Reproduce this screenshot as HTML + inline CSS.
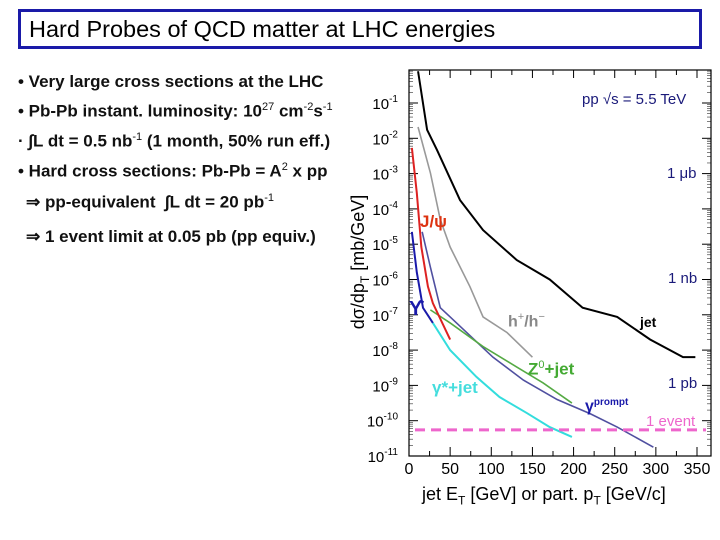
<!DOCTYPE html>
<html><head><meta charset="utf-8"><style>
body{margin:0;width:720px;height:540px;background:#fff;font-family:"Liberation Sans",sans-serif;position:relative;overflow:hidden}
.t{position:absolute;white-space:nowrap}
#title{position:absolute;left:18px;top:9px;width:670px;height:34px;border:3px solid #1a1aa8;font-size:23.5px;line-height:34px;padding-left:8px;box-sizing:content-box}
.b{font-size:17px;font-weight:bold;color:#111}
sup{font-size:11px;font-weight:normal}
</style></head><body>
<div id="title">Hard Probes of QCD matter at LHC energies</div>
<div class="t b" style="left:18px;top:72px">• Very large cross sections at the LHC</div>
<div class="t b" style="left:18px;top:101px">• Pb-Pb instant. luminosity: 10<sup>27</sup> cm<sup>-2</sup>s<sup>-1</sup></div>
<div class="t b" style="left:18px;top:131px">· ∫L dt = 0.5 nb<sup>-1</sup> (1 month, 50% run eff.)</div>
<div class="t b" style="left:18px;top:161px">• Hard cross sections: Pb-Pb = A<sup>2</sup> x pp</div>
<div class="t b" style="left:26px;top:192px">⇒ pp-equivalent &nbsp;∫L dt = 20 pb<sup>-1</sup></div>
<div class="t b" style="left:26px;top:227px">⇒ 1 event limit at 0.05 pb (pp equiv.)</div>
<svg id="chart" width="720" height="540" style="position:absolute;left:0;top:0"></svg>
<script>
const jetPt=[11,22,34,62,90,131,171,211,253,293,333,348];
const jetL=[-0.1,-1.76,-2.33,-3.75,-4.6,-5.45,-6.0,-6.8,-7.06,-7.7,-8.2,-8.2];
const hadPt=[11,26,38,50,74,90,119,150];
const hadL=[-1.68,-2.98,-4.3,-5.08,-6.2,-7.06,-7.5,-8.2];
const jpsiPt=[3.5,9.5,15,23,29,50];
const jpsiL=[-2.27,-3.55,-5.08,-6.2,-6.67,-7.7];
const upsPt=[3.5,9.5,17,29];
const upsL=[-4.65,-5.8,-6.8,-7.23];
const gamPt=[16,26,38,50,70,102,139,180,220,253,297];
const gamL=[-4.65,-5.65,-6.8,-7.06,-7.5,-8.2,-8.85,-9.4,-9.8,-10.18,-10.75];
const zPt=[26,50,90,131,163,198];
const zL=[-6.86,-7.23,-7.9,-8.48,-8.93,-9.5];
const gsPt=[29,50,82,110,143,171,198];
const gsL=[-7.23,-8.0,-8.76,-9.33,-9.78,-10.18,-10.46];
const xTicks=[0,50,100,150,200,250,300,350];
const yTicks=[-1,-2,-3,-4,-5,-6,-7,-8,-9,-10,-11];
const eventL=-10.26;
const X=v=>409+v*288/350, Y=l=>103+(-1-l)*35.3;
const NS='http://www.w3.org/2000/svg', svg=document.getElementById('chart');
function mk(tag,attrs,txt){const e=document.createElementNS(NS,tag);for(const k in attrs)e.setAttribute(k,attrs[k]);if(txt!==undefined)e.textContent=txt;svg.appendChild(e);return e;}
let f=mk('rect',{x:409,y:70,width:302,height:386,fill:'none',stroke:'#000','stroke-width':1.2});


xTicks.forEach(v=>{
 let t=mk('line',{x1:X(v),x2:X(v),y1:456,y2:447,stroke:'#000'});
 
 
 mk('line',{x1:X(v),x2:X(v),y1:70,y2:78,stroke:'#000'});
 if(v<350){mk('line',{x1:X(v+25),x2:X(v+25),y1:456,y2:451,stroke:'#000'});mk('line',{x1:X(v+25),x2:X(v+25),y1:70,y2:75,stroke:'#000'});}
 let l=mk('text',{x:X(v),y:474,'font-size':16,'text-anchor':'middle'},v);
 
 
});
yTicks.forEach(p=>{
 let t=mk('line',{x1:409,x2:418,y1:Y(p),y2:Y(p),stroke:'#000'});
 
 
 mk('line',{x1:702,x2:711,y1:Y(p),y2:Y(p),stroke:'#000'});
 for(let m=2;m<10;m++){const yy=Y(p+Math.log10(m));if(yy>=70){mk('line',{x1:409,x2:413,y1:yy,y2:yy,stroke:'#000','stroke-width':0.5});mk('line',{x1:707,x2:711,y1:yy,y2:yy,stroke:'#000','stroke-width':0.5});}}
 let l=mk('text',{x:398,y:Y(p)+6,'font-size':15,'text-anchor':'end'});
 
 
 l.appendChild(document.createTextNode('10'));
 const s=document.createElementNS(NS,'tspan');s.setAttribute('dy',-7);s.setAttribute('font-size',10);s.textContent=p;l.appendChild(s);
});
function series(px,ly,col,w,name){
 const p=mk('polyline',{points:px.map((v,i)=>X(v)+','+Y(ly[i])).join(' '),fill:'none',stroke:col,'stroke-width':w});
 
 
}
series(jetPt,jetL,'#000',2,'jet-curve');
series(hadPt,hadL,'#999',1.6,'hadron-curve');
series(gamPt,gamL,'#5050a0',1.6,'prompt-photon-curve');
series(zPt,zL,'#55aa44',1.6,'z0-jet-curve');
series(gsPt,gsL,'#33dddd',2,'virtual-photon-jet-curve');
series(jpsiPt,jpsiL,'#dd2222',2,'jpsi-curve');
series(upsPt,upsL,'#1a1aaa',2,'upsilon-curve');
let ev=mk('line',{x1:415,x2:706,y1:Y(eventL),y2:Y(eventL),stroke:'#ee66cc','stroke-width':3,'stroke-dasharray':'10,6'});


</script>
<div class="t" style="left:582px;top:91px;font-size:15px;color:#1a1a7a">pp √s = 5.5 TeV</div>
<div class="t" style="left:667px;top:165px;font-size:15px;color:#1a1a7a">1 μb</div>
<div class="t" style="left:668px;top:270px;font-size:15px;color:#1a1a7a">1 nb</div>
<div class="t" style="left:668px;top:375px;font-size:15px;color:#1a1a7a">1 pb</div>
<div class="t" style="left:646px;top:413px;font-size:15px;color:#ee66cc">1 event</div>
<div class="t" style="left:420px;top:212px;font-size:17px;font-weight:bold;color:#dd3311">J/ψ</div>
<div class="t" style="left:409px;top:298px;font-size:20px;font-weight:bold;color:#1a1aaa">ϒ</div>
<div class="t" style="left:508px;top:311px;font-size:16px;font-weight:bold;color:#888">h<sup>+</sup>/h<sup>−</sup></div>
<div class="t" style="left:640px;top:314px;font-size:14px;font-weight:bold;color:#000">jet</div>
<div class="t" style="left:528px;top:359px;font-size:17px;font-weight:bold;color:#44aa33">Z<sup>0</sup>+jet</div>
<div class="t" style="left:432px;top:378px;font-size:17px;font-weight:bold;color:#44dddd">γ*+jet</div>
<div class="t" style="left:585px;top:398px;font-size:16px;font-weight:bold;color:#1a1aaa">γ<span style="font-size:10px;position:relative;top:-6px">prompt</span></div>
<div class="t" style="left:422px;top:484px;font-size:18px">jet E<sub style="font-size:12px">T</sub> [GeV] or part. p<sub style="font-size:12px">T</sub> [GeV/c]</div>
<div class="t" style="left:360px;top:262px;font-size:18px;transform:translate(-50%,-50%) rotate(-90deg)">dσ/dp<sub style="font-size:12px">T</sub> [mb/GeV]</div>
</body></html>
